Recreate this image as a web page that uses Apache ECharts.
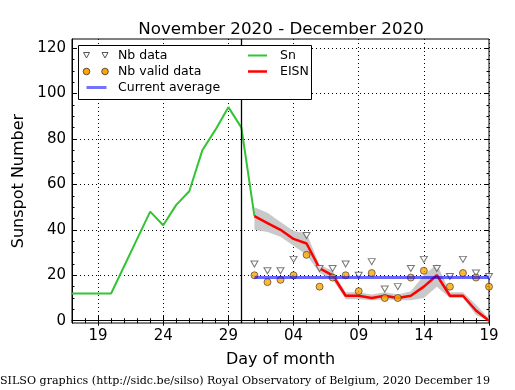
<!DOCTYPE html>
<html>
<head>
<meta charset="utf-8">
<script src="https://cdn.jsdelivr.net/npm/echarts@6/dist/echarts.min.js"></script>
<style>
html,body{margin:0;padding:0;background:#fff;}
#chart{width:515px;height:390px;}
</style>
</head>
<body>
<div id="chart"></div>
<script>
// Days: Nov 17 .. Dec 19
const days = ['11-17','11-18','11-19','11-20','11-21','11-22','11-23','11-24','11-25','11-26','11-27','11-28','11-29','11-30',
  '12-01','12-02','12-03','12-04','12-05','12-06','12-07','12-08','12-09','12-10','12-11','12-12','12-13','12-14','12-15','12-16','12-17','12-18','12-19'];
const majorTickDays = ['11-19','11-24','11-29','12-04','12-09','12-14','12-19'];
const yTickLabels = [0, 20, 40, 60, 80, 100, 120];
const yMinorTicks = [0,5,10,15,20,25,30,35,40,45,50,55,60,65,70,75,80,85,90,95,100,105,110,115,120];

// Sn: Nov 17 .. Dec 1
const sn = [12, 12, 12, 12, 24, 36, 48, 42, 51, 57, 75, 84, 94, 85, 46];
// Dec 1 .. Dec 19
const eisn      = [46, 43, 40, 36, 34, 23, 20, 11, 11, 10, 11, 10, 11, 15, 20, 11, 11, 4.5, 0];
const eisnLow   = [40, 39, 37, 33, 29, 21, 18, 9.5, 9.5, 9, 9.5, 9, 9, 10, 15, 10, 10, 2.5, 0];
const eisnHigh  = [50, 47.5, 43.5, 39.5, 38.5, 24.5, 22, 12.5, 12.5, 11.5, 12.5, 11.5, 13, 20, 25, 12.5, 12.5, 7, 1];
const nbData    = [25, 22, 22, 27, 37.5, 23, 23, 25, 20, 26, 14, 15, 23, 27, 23, 19.5, 27, 21, 19.5];
const nbValid   = [20, 17, 18, 20, 29, 15, 19, 20, 13, 21, 10, 10, 19, 22, null, 15, 21, 19, 15];
const currentAverage = [19, 19, 19, 19, 19, 19, 19, 19, 19, 19, 19, 19, 19, 19, 19, 19, 19, 19, 19];
const cutDay = '11-30';

const decStart = days.indexOf('12-01');
function padDec(arr){ const out = new Array(decStart).fill(null); return out.concat(arr); }
const bandBase = padDec(eisnLow);
const bandDiff = padDec(eisnHigh.map((h,i)=>h - eisnLow[i]));

const isMajor = (i) => majorTickDays.indexOf(days[i]) >= 0;
const font = 'DejaVu Sans';

const chart = echarts.init(document.getElementById('chart'), null, {renderer:'canvas'});
const baseCat = {type:'category', data: days, boundaryGap:false, gridIndex:0};
const baseVal = {type:'value', min:-1, max:124, gridIndex:0};

const option = {
  animation:false,
  backgroundColor:'#fff',
  title:{text:'November 2020 - December 2020', left:276, top:16, textAlign:'center',
    textStyle:{fontFamily:font, fontSize:16.7, fontWeight:'normal', color:'#000'}},
  grid:{left:72, top:39, right:26, bottom:67, show:true, borderColor:'#000', borderWidth:1, backgroundColor:'transparent'},
  xAxis:[
    Object.assign({}, baseCat, {position:'bottom',
      axisLine:{show:true, lineStyle:{color:'#000', width:1}},
      axisTick:{show:true, inside:true, length:5, interval:(i)=>isMajor(i), lineStyle:{color:'#000'}},
      axisLabel:{show:true, interval:(i)=>isMajor(i), formatter:(v)=>v.slice(3), fontFamily:font, fontSize:15, color:'#000', margin:6},
      splitLine:{show:true, interval:(i)=>isMajor(i), lineStyle:{color:'#000', type:[1,3], width:1}},
      name:'Day of month', nameLocation:'middle', nameGap:29, nameTextStyle:{fontFamily:font, fontSize:16, color:'#000'}}),
    Object.assign({}, baseCat, {position:'bottom', axisLine:{show:false},
      axisTick:{show:true, inside:true, length:2.5, interval:0, lineStyle:{color:'#000'}},
      axisLabel:{show:false}, splitLine:{show:false}}),
    Object.assign({}, baseCat, {position:'top', axisLine:{show:false},
      axisTick:{show:true, inside:true, length:5, interval:(i)=>isMajor(i), lineStyle:{color:'#000'}},
      axisLabel:{show:false}, splitLine:{show:false}}),
    Object.assign({}, baseCat, {position:'top', axisLine:{show:false},
      axisTick:{show:true, inside:true, length:2.5, interval:0, lineStyle:{color:'#000'}},
      axisLabel:{show:false}, splitLine:{show:false}})
  ],
  yAxis:[
    Object.assign({}, baseVal, {position:'left',
      axisLine:{show:true, lineStyle:{color:'#000', width:1}},
      axisTick:{show:true, inside:true, length:5, customValues:yTickLabels, lineStyle:{color:'#000'}},
      axisLabel:{show:true, customValues:yTickLabels, fontFamily:font, fontSize:15, color:'#000', margin:6},
      splitLine:{show:true, lineStyle:{color:'#000', type:[1,3], width:1}},
      name:'Sunspot Number', nameLocation:'middle', nameGap:37, nameRotate:90,
      nameTextStyle:{fontFamily:font, fontSize:16, color:'#000'}}),
    Object.assign({}, baseVal, {position:'left', axisLine:{show:false},
      axisTick:{show:true, inside:true, length:2.5, customValues:yMinorTicks, lineStyle:{color:'#000'}},
      axisLabel:{show:false}, splitLine:{show:false}}),
    Object.assign({}, baseVal, {position:'right', axisLine:{show:false},
      axisTick:{show:true, inside:true, length:5, customValues:yTickLabels, lineStyle:{color:'#000'}},
      axisLabel:{show:false}, splitLine:{show:false}}),
    Object.assign({}, baseVal, {position:'right', axisLine:{show:false},
      axisTick:{show:true, inside:true, length:2.5, customValues:yMinorTicks, lineStyle:{color:'#000'}},
      axisLabel:{show:false}, splitLine:{show:false}})
  ],
  series:[
    {name:'bandLow', type:'line', data:bandBase, stack:'band', symbol:'none', silent:true,
      lineStyle:{opacity:0}, z:2},
    {name:'bandRange', type:'line', data:bandDiff, stack:'band', symbol:'none', silent:true,
      lineStyle:{opacity:0}, areaStyle:{color:'#c9c9c9', opacity:1}, z:2},
    {name:'Sn', type:'line', data:sn, symbol:'none', lineStyle:{color:'#33c433', width:2}, itemStyle:{color:'#33c433'}, z:3,
      markLine:{silent:true, symbol:'none', label:{show:false}, lineStyle:{color:'#000', width:1.3, type:'solid'},
        data:[{xAxis:cutDay}]}},
    {name:'EISN', type:'line', data:padDec(eisn), symbol:'none', lineStyle:{color:'#ff0000', width:2.5}, itemStyle:{color:'#ff0000'}, z:3},
    {name:'Nb data', type:'scatter', data:padDec(nbData), symbol:'triangle', symbolRotate:180, symbolSize:[7,6],
      itemStyle:{color:'#ffffff', borderColor:'#555', borderWidth:1}, z:4},
    {name:'Nb valid data', type:'scatter', data:padDec(nbValid), symbol:'circle', symbolSize:7,
      itemStyle:{color:'#ffa500', borderColor:'#333', borderWidth:0.8}, z:4},
    {name:'Current average', type:'line', data:padDec(currentAverage), symbol:'none',
      lineStyle:{color:'rgba(0,0,255,0.6)', width:3}, z:5}
  ],
  graphic:[
    {type:'rect', z:100, shape:{x:78.5, y:45.5, width:233, height:54}, style:{fill:'#fff', stroke:'#000', lineWidth:1}},
    {type:'polygon', z:101, shape:{points:[[83.5,52.5],[89.5,52.5],[86.5,58]]}, style:{fill:'#fff', stroke:'#555', lineWidth:1}},
    {type:'polygon', z:101, shape:{points:[[102,52.5],[108,52.5],[105,58]]}, style:{fill:'#fff', stroke:'#555', lineWidth:1}},
    {type:'circle', z:101, shape:{cx:86.5, cy:71.5, r:3.3}, style:{fill:'#ffa500', stroke:'#333', lineWidth:0.8}},
    {type:'circle', z:101, shape:{cx:105, cy:71.5, r:3.3}, style:{fill:'#ffa500', stroke:'#333', lineWidth:0.8}},
    {type:'line', z:101, shape:{x1:86.5, y1:87.5, x2:106.5, y2:87.5}, style:{stroke:'rgba(0,0,255,0.55)', lineWidth:3}},
    {type:'line', z:101, shape:{x1:248, y1:55.5, x2:267, y2:55.5}, style:{stroke:'#33c433', lineWidth:2}},
    {type:'line', z:101, shape:{x1:248, y1:71.5, x2:267, y2:71.5}, style:{stroke:'#ff0000', lineWidth:2.5}},
    {type:'text', z:101, x:118, y:55.5, style:{text:'Nb data', fontFamily:font, fontSize:12.5, fill:'#000', verticalAlign:'middle'}},
    {type:'text', z:101, x:118, y:71.5, style:{text:'Nb valid data', fontFamily:font, fontSize:12.5, fill:'#000', verticalAlign:'middle'}},
    {type:'text', z:101, x:118, y:87.5, style:{text:'Current average', fontFamily:font, fontSize:12.5, fill:'#000', verticalAlign:'middle'}},
    {type:'text', z:101, x:280, y:55.5, style:{text:'Sn', fontFamily:font, fontSize:12.5, fill:'#000', verticalAlign:'middle'}},
    {type:'text', z:101, x:280, y:71.5, style:{text:'EISN', fontFamily:font, fontSize:12.5, fill:'#000', verticalAlign:'middle'}},
    {type:'text', z:101, x:0, y:381, style:{text:'SILSO graphics (http://sidc.be/silso) Royal Observatory of Belgium, 2020 December 19',
      fontFamily:'DejaVu Serif', fontSize:11.1, fill:'#000', verticalAlign:'middle'}}
  ]
};
chart.setOption(option);
</script>
</body>
</html>
